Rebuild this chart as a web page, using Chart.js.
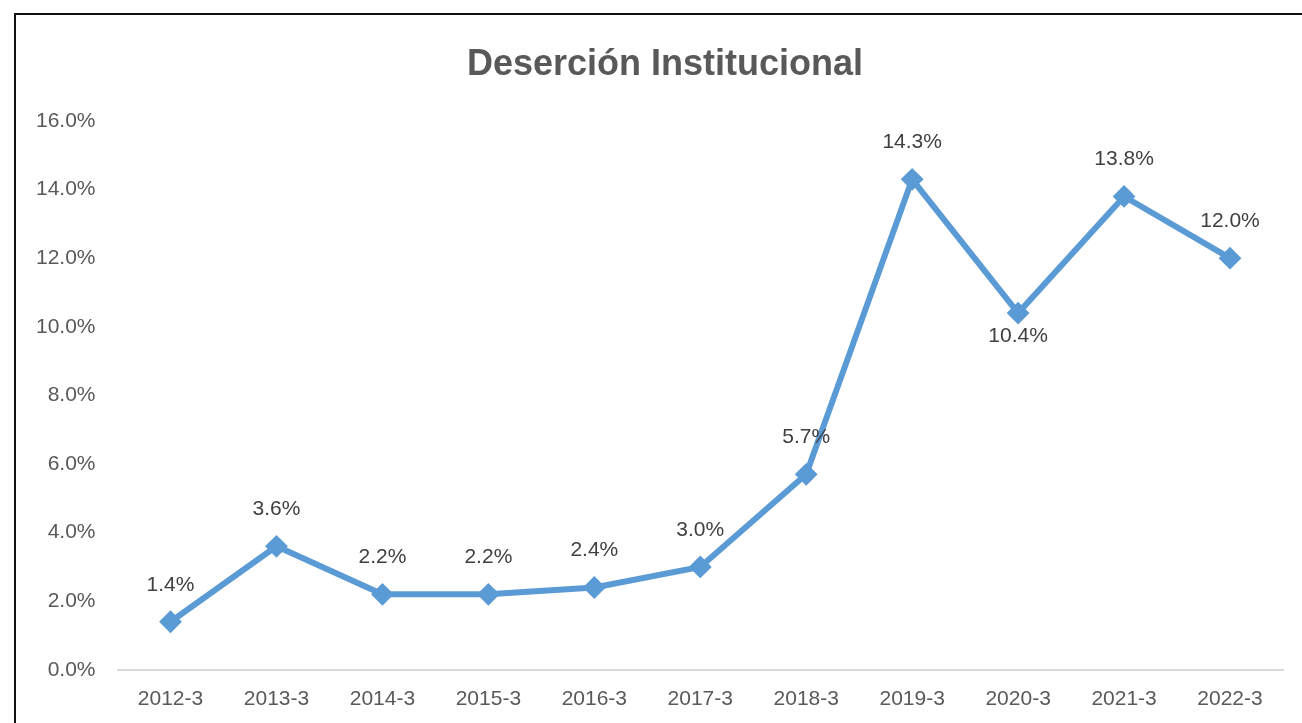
<!DOCTYPE html>
<html>
<head>
<meta charset="utf-8">
<script src="https://cdn.jsdelivr.net/npm/chart.js@4"></script>
<style>
  html, body { margin: 0; padding: 0; overflow: hidden; background: #fff; }
  #frame { position: absolute; left: 14px; top: 13px; width: 1400px; height: 800px; border: 2px solid #111; }
  #chart { position: absolute; left: 0; top: 0; }
</style>
</head>
<body>
<div id="frame"></div>
<canvas id="chart" width="1302" height="723"></canvas>
<script>
const categories = ['2012-3', '2013-3', '2014-3', '2015-3', '2016-3', '2017-3', '2018-3', '2019-3', '2020-3', '2021-3', '2022-3'];
const desercion = [1.4, 3.6, 2.2, 2.2, 2.4, 3.0, 5.7, 14.3, 10.4, 13.8, 12.0];
const yTicks = [0, 2, 4, 6, 8, 10, 12, 14, 16];
const titulo = 'Deserción Institucional';

const fontFamily = '"Liberation Sans", Arial, sans-serif';

// título centrado sobre el marco del gráfico, no sobre el canvas
const chartTitle = {
    id: 'chartTitle',
    afterDraw(chart) {
        const ctx = chart.ctx;
        ctx.save();
        ctx.font = 'bold 36px ' + fontFamily;
        ctx.fillStyle = '#595959';
        ctx.textAlign = 'center';
        ctx.textBaseline = 'middle';
        ctx.fillText(titulo, 665, 65);
        ctx.restore();
    }
};

// etiquetas de datos (no hay plugin datalabels disponible)
const dataLabels = {
    id: 'dataLabels',
    afterDatasetsDraw(chart) {
        const ctx = chart.ctx;
        const meta = chart.getDatasetMeta(0);
        const values = chart.data.datasets[0].data;
        ctx.save();
        ctx.font = '21px ' + fontFamily;
        ctx.fillStyle = '#404040';
        ctx.textAlign = 'center';
        ctx.textBaseline = 'middle';
        meta.data.forEach((pt, i) => {
            const v = values[i];
            const below = i > 0 && i < values.length - 1 && v < values[i - 1] && v < values[i + 1];
            const y = below ? pt.y + 23 : pt.y - 37;
            ctx.fillText(v.toFixed(1) + '%', pt.x, y);
        });
        ctx.restore();
    }
};

const ctx = document.getElementById('chart').getContext('2d');
const chart = new Chart(ctx, {
    type: 'line',
    data: {
        labels: categories,
        datasets: [{
            data: desercion,
            borderColor: '#5B9BD5',
            backgroundColor: '#5B9BD5',
            borderWidth: 6,
            pointStyle: 'rectRot',
            pointRadius: 10,
            pointBorderWidth: 2,
            tension: 0
        }]
    },
    options: {
        responsive: false,
        animation: false,
        layout: {
            padding: { left: 14, right: 19, top: 121, bottom: -6 }
        },
        plugins: {
            legend: { display: false },
            tooltip: { enabled: false },
            title: { display: false }
        },
        scales: {
            x: {
                offset: true,
                grid: { display: false, drawTicks: false },
                border: { display: true, color: '#d9d9d9', width: 2 },
                ticks: {
                    color: '#595959',
                    padding: 17,
                    maxRotation: 0,
                    font: { family: fontFamily, size: 21 }
                }
            },
            y: {
                min: 0,
                max: 16,
                afterBuildTicks: axis => { axis.ticks = yTicks.map(v => ({ value: v })); },
                grid: { display: false, drawTicks: false },
                border: { display: false },
                ticks: {
                    color: '#595959',
                    padding: 22,
                    font: { family: fontFamily, size: 21 },
                    callback: v => v.toFixed(1) + '%'
                }
            }
        }
    },
    plugins: [dataLabels, chartTitle]
});
</script>
</body>
</html>
